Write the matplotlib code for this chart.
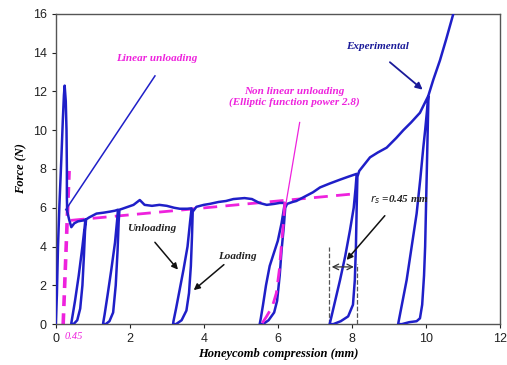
import matplotlib
matplotlib.use("Agg")
import matplotlib.pyplot as plt

# Experimental force-compression curve (loading/unloading loops)
exp_x = [0, 0.03, 0.06, 0.10, 0.15, 0.19, 0.22, 0.24, 0.27, 0.29, 0.30, 0.30, 0.31, 0.36, 0.42, 0.50, 0.60, 0.75, 0.80,
         0.78, 0.72, 0.62, 0.52, 0.45, 0.42, 0.42,
         0.48, 0.58, 0.66, 0.72, 0.76, 0.79, 0.82,
         0.90, 1.10, 1.30, 1.46, 1.60, 1.68,
         1.66, 1.60, 1.50, 1.40, 1.32, 1.28, 1.28,
         1.35, 1.45, 1.55, 1.62, 1.67, 1.70, 1.72,
         1.80, 1.95, 2.10, 2.27, 2.40, 2.60, 2.80, 3.00, 3.20, 3.35, 3.55, 3.67,
         3.63, 3.56, 3.45, 3.35, 3.25, 3.18, 3.17,
         3.25, 3.40, 3.53, 3.60, 3.65, 3.68, 3.70,
         3.80, 4.00, 4.16, 4.40, 4.60, 4.80, 5.10, 5.30, 5.50, 5.70, 5.90, 6.05, 6.19,
         6.10, 6.00, 5.88, 5.78, 5.68, 5.60, 5.54, 5.51,
         5.60, 5.75, 5.90, 5.98, 6.05, 6.10, 6.16, 6.20, 6.25,
         6.40, 6.50, 6.70, 6.95, 7.14, 7.40, 7.68, 7.90, 8.13,
         8.10, 8.05, 7.95, 7.82, 7.68, 7.55, 7.45, 7.40,
         7.50, 7.70, 7.90, 8.03, 8.08, 8.11, 8.13, 8.15, 8.20,
         8.49, 8.70, 8.94, 9.20, 9.39, 9.60, 9.84, 10.06,
         10.03, 9.98, 9.93, 9.85, 9.75, 9.60, 9.48, 9.35, 9.28, 9.25,
         9.35, 9.55, 9.75, 9.84, 9.90, 9.95, 9.98, 10.00, 10.03, 10.05, 10.07,
         10.20, 10.38, 10.55, 10.74, 10.80]
exp_y = [0, 1.5, 4.0, 6.2, 8.5, 10.5, 11.8, 12.3, 11.5, 10.0, 8.0, 6.5, 5.8, 5.4, 5.0, 5.2, 5.3, 5.35, 5.4,
         5.0, 4.0, 2.5, 1.2, 0.4, 0.05, 0,
         0, 0.2, 0.8, 2.0, 3.5, 4.8, 5.4,
         5.5, 5.7, 5.75, 5.8, 5.85, 5.9,
         5.4, 4.2, 2.8, 1.5, 0.5, 0.05, 0,
         0, 0.15, 0.6, 2.0, 3.8, 5.3, 5.9,
         5.95, 6.05, 6.15, 6.4, 6.15, 6.1, 6.15, 6.1, 6.0, 5.95, 5.95, 5.97,
         5.3, 4.0, 2.8, 1.8, 0.8, 0.15, 0,
         0, 0.2, 0.7, 1.6, 3.0, 4.5, 5.8,
         6.05, 6.15, 6.2, 6.3, 6.35, 6.45, 6.5, 6.45, 6.25, 6.15, 6.2, 6.25, 6.25,
         5.2, 4.3, 3.6, 3.0, 2.0, 1.0, 0.3, 0,
         0, 0.2, 0.6, 1.2, 2.5, 3.8, 5.0, 6.0, 6.2,
         6.3, 6.35, 6.55, 6.8, 7.05, 7.25, 7.45, 7.6, 7.75,
         7.0, 6.0, 4.85, 3.5, 2.27, 1.2, 0.4, 0,
         0, 0.15, 0.4, 1.0, 2.27, 4.0, 6.0, 7.6, 7.9,
         8.6, 8.85, 9.1, 9.6, 10.0, 10.4, 10.9, 11.75,
         11.0, 10.0, 9.1, 7.5, 5.7, 3.8, 2.27, 1.0, 0.3, 0,
         0, 0.1, 0.15, 0.3, 1.0, 2.5, 4.0, 5.7, 8.0, 10.0, 11.8,
         12.6, 13.6, 14.7, 16.0, 16.4]

# Linear unloading model
lin_x = [0.20, 0.36]
lin_y = [0.0, 7.9]
# Plateau model
plat_x = [0.40, 8.13]
plat_y = [5.35, 6.73]
# Non-linear (elliptic) unloading model
nl_x = [6.19, 6.15, 6.10, 6.04, 5.96, 5.85, 5.69, 5.56]
nl_y = [6.30, 5.20, 4.15, 2.80, 1.60, 0.90, 0.38, 0.0]

# r_s markers
rs_x = [7.38, 8.13]

xticks = [0, 2, 4, 6, 8, 10, 12]
yticks = [0, 2, 4, 6, 8, 10, 12, 14, 16]

blue = '#1f1fc8'
pink = '#ee22dd'
serif = 'Liberation Serif'

fig = plt.figure(figsize=(5.07, 3.65), dpi=100)
ax = fig.add_axes([0.110, 0.112, 0.876, 0.850])

ax.plot(lin_x, lin_y, color=pink, lw=2.6, dashes=(3, 2), zorder=2)
ax.plot(plat_x, plat_y, color=pink, lw=2.0, dashes=(5, 3), zorder=2)
ax.plot(exp_x, exp_y, color=blue, lw=1.8, zorder=3)
ax.plot(nl_x, nl_y, color=pink, lw=2.0, dashes=(5, 3), zorder=4)

for xv, top in zip(rs_x, [4.0, 3.1]):
    ax.plot([xv, xv], [0, top], color='#555555', lw=0.9, ls='--', zorder=1)
ax.annotate('', xy=(rs_x[0], 2.95), xytext=(rs_x[1], 2.95),
            arrowprops=dict(arrowstyle='<->', color='#333333', lw=0.9))

ax.set_xlim(0, 12)
ax.set_ylim(0, 16)
ax.set_xticks(xticks)
ax.set_yticks(yticks)
ax.tick_params(direction='out', length=3, width=0.8, labelsize=9, colors='#222222')
for lab in ax.get_xticklabels() + ax.get_yticklabels():
    lab.set_family('Liberation Sans')
for s in ax.spines.values():
    s.set_color('#555555')
    s.set_linewidth(1.0)

ax.set_xlabel('Honeycomb compression (mm)', family=serif, style='italic',
              weight='bold', fontsize=9, labelpad=2)
ax.set_ylabel('Force (N)', family=serif, style='italic', weight='bold',
              fontsize=9, labelpad=4)

txt = dict(family=serif, style='italic', weight='bold', fontsize=8)

ax.text(2.73, 13.7, 'Linear unloading', color=pink, ha='center', va='center', **txt)
ax.plot([2.68, 0.27], [12.8, 5.9], color=blue, lw=1.1, zorder=5)

ax.text(6.45, 12.0, 'Non linear unloading', color=pink, ha='center', va='center', **txt)
ax.text(6.45, 11.45, '(Elliptic function power 2.8)', color=pink, ha='center', va='center', **txt)
ax.plot([6.59, 6.2], [10.4, 6.0], color=pink, lw=0.9, zorder=5)

ax.text(8.7, 14.3, 'Experimental', color='#1a1a99', ha='center', va='center', **txt)
ax.annotate('', xy=(9.97, 12.0), xytext=(8.97, 13.6),
            arrowprops=dict(arrowstyle='-|>', color='#1a1a99', lw=1.3, mutation_scale=10))

ax.text(2.6, 4.93, 'Unloading', color='#222222', ha='center', va='center', **txt)
ax.annotate('', xy=(3.35, 2.7), xytext=(2.63, 4.33),
            arrowprops=dict(arrowstyle='-|>', color='#111111', lw=1.1, mutation_scale=9))

ax.text(4.9, 3.47, 'Loading', color='#222222', ha='center', va='center', **txt)
ax.annotate('', xy=(3.67, 1.66), xytext=(4.6, 3.16),
            arrowprops=dict(arrowstyle='-|>', color='#111111', lw=1.1, mutation_scale=9))

ax.text(9.3, 6.4, r'$r_s$ =0.45 mm', color='#222222', ha='center', va='center', **txt)
ax.annotate('', xy=(7.81, 3.2), xytext=(8.94, 5.7),
            arrowprops=dict(arrowstyle='-|>', color='#111111', lw=1.1, mutation_scale=9))

ax.text(0.5, -0.65, '0.45', color=pink, ha='center', va='center',
        family=serif, style='italic', fontsize=7.5)

fig.savefig('out.png', dpi=100)
